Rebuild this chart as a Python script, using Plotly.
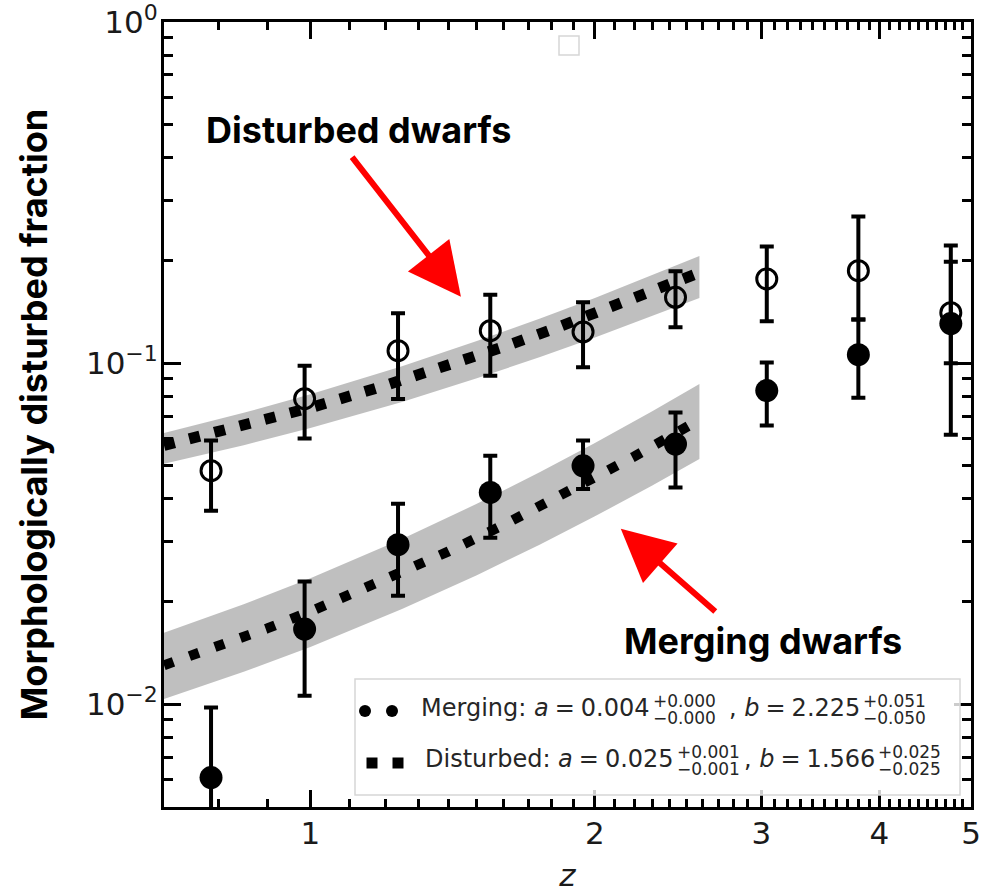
import math
import plotly.graph_objects as go

# ---------------- data ----------------
z_bins = [0.785, 0.986, 1.238, 1.550, 1.943, 2.434, 3.04, 3.80, 4.76]

disturbed_frac = [0.0484, 0.0787, 0.1088, 0.1245, 0.1235, 0.1560, 0.1766, 0.1867, 0.1406]
disturbed_hi   = [0.0593, 0.0983, 0.1400, 0.1588, 0.1508, 0.1858, 0.2196, 0.2689, 0.1984]
disturbed_lo   = [0.0369, 0.0601, 0.0785, 0.0919, 0.0972, 0.1274, 0.1327, 0.1342, 0.1000]

merging_frac = [0.0061, 0.01662, 0.02936, 0.0418, 0.0500, 0.0579, 0.0831, 0.1059, 0.1306]
merging_hi   = [0.00979, 0.0229, 0.0387, 0.0535, 0.0593, 0.0717, 0.1005, 0.1342, 0.2211]
merging_lo   = [0.0049, 0.0106, 0.0208, 0.0308, 0.0428, 0.0432, 0.0656, 0.0792, 0.0617]

fit_z = [0.7, 0.8, 0.9, 1.0, 1.2, 1.4, 1.6, 1.8, 2.0, 2.2, 2.4, 2.58]
disturbed_fit = [0.0574, 0.0628, 0.0683, 0.0740, 0.0860, 0.0985, 0.1116, 0.1254, 0.1397, 0.1545, 0.1699, 0.1842]
merging_fit   = [0.01302, 0.01479, 0.01669, 0.01870, 0.02311, 0.02806, 0.03352, 0.03954, 0.04608, 0.05320, 0.06092, 0.0683]

band_z = [0.7, 0.85, 1.0, 1.25, 1.5, 1.75, 2.0, 2.3, 2.58]
disturbed_band_hi = [0.0624, 0.0715, 0.0810, 0.0979, 0.1161, 0.1352, 0.1553, 0.1809, 0.2060]
disturbed_band_lo = [0.0507, 0.0575, 0.0645, 0.0770, 0.0903, 0.1042, 0.1189, 0.1372, 0.1551]
merging_band_hi = [0.01621, 0.01963, 0.02340, 0.03052, 0.03870, 0.04795, 0.05832, 0.07226, 0.08685]
merging_band_lo = [0.01036, 0.01245, 0.01473, 0.01902, 0.02390, 0.02942, 0.03556, 0.04378, 0.05233]

x_ticks = [1, 2, 3, 4, 5]
x_ticktext = ["1", "2", "3", "4", "5"]
y_ticks = [0.01, 0.1, 1]
y_exponents = ["\u22122", "\u22121", "0"]

EQ = "\u2005=\u2005"
legend_rows = [
    ("Merging: <i>a</i>" + EQ + "0.004", "+0.000", "\u22120.000",
     ", <i>b</i>" + EQ + "2.225", "+0.051", "\u22120.050"),
    ("Disturbed: <i>a</i>" + EQ + "0.025", "+0.001", "\u22120.001",
     ", <i>b</i>" + EQ + "1.566", "+0.025", "\u22120.025"),
]

# ---------------- geometry helpers ----------------
W, H = 981, 893
L, R, T, B = 164, 971, 22, 807
PW, PH = R - L, B - T


def px(xp):
    return (xp - L) / PW


def py(yp):
    return (B - yp) / PH


fig = go.Figure()

GRAY_FILL = "rgba(128,128,128,0.5)"

# uncertainty bands
for lo, hi in [(disturbed_band_lo, disturbed_band_hi), (merging_band_lo, merging_band_hi)]:
    fig.add_trace(go.Scatter(x=band_z, y=lo, mode="lines", line=dict(width=0),
                             showlegend=False, hoverinfo="skip"))
    fig.add_trace(go.Scatter(x=band_z, y=hi, mode="lines", line=dict(width=0),
                             fill="tonexty", fillcolor=GRAY_FILL,
                             showlegend=False, hoverinfo="skip"))

# data points with error bars
fig.add_trace(go.Scatter(
    x=z_bins, y=disturbed_frac, mode="markers", name="Disturbed",
    marker=dict(symbol="circle-open", size=20, color="black", line=dict(width=3, color="black")),
    error_y=dict(type="data", symmetric=False,
                 array=[h - v for h, v in zip(disturbed_hi, disturbed_frac)],
                 arrayminus=[v - l for v, l in zip(disturbed_frac, disturbed_lo)],
                 thickness=4, width=7, color="black"),
    showlegend=False))

fig.add_trace(go.Scatter(
    x=z_bins, y=merging_frac, mode="markers", name="Merging",
    marker=dict(symbol="circle", size=23, color="black"),
    error_y=dict(type="data", symmetric=False,
                 array=[h - v for h, v in zip(merging_hi, merging_frac)],
                 arrayminus=[v - l for v, l in zip(merging_frac, merging_lo)],
                 thickness=4, width=7, color="black"),
    showlegend=False))

# fit lines
fig.add_trace(go.Scatter(x=fit_z, y=disturbed_fit, mode="lines",
                         line=dict(color="black", width=11, dash="11px,15px"),
                         showlegend=False, hoverinfo="skip"))
fig.add_trace(go.Scatter(x=fit_z, y=merging_fit, mode="lines",
                         line=dict(color="black", width=10, dash="10px,17px"),
                         showlegend=False, hoverinfo="skip"))

TICKFONT = dict(family="DejaVu Sans", size=31, color="#1a1a1a")
minor_x = [round(v / 10, 1) for v in range(8, 50) if v % 10 != 0]
minor_y = [m * 10 ** e for e in (-3, -2, -1) for m in range(2, 10) if m * 10 ** e >= 0.0049]
y_ticktext = ['10<sup><span style="font-size:22px">%s</span></sup>' % e for e in y_exponents]

fig.update_xaxes(
    type="log", range=[math.log10(0.7), math.log10(5)], automargin=False,
    tickmode="array", tickvals=x_ticks, ticktext=x_ticktext, ticklabeloverflow="allow",
    ticks="inside", ticklen=17, tickwidth=2.5, tickcolor="black",
    showline=True, linewidth=3, linecolor="black", mirror="ticks",
    showgrid=False, zeroline=False, tickfont=TICKFONT, ticklabelstandoff=-3,
    minor=dict(tickmode="array", tickvals=minor_x, ticks="inside", ticklen=8,
               tickwidth=2.5, tickcolor="black", showgrid=False),
    title=dict(text="<i>z</i>", font=dict(family="DejaVu Sans", size=31, color="#1a1a1a"), standoff=20),
)
fig.update_yaxes(
    type="log", range=[math.log10(0.005), 0], automargin=False,
    tickmode="array", tickvals=y_ticks, ticktext=y_ticktext, ticklabeloverflow="allow",
    ticks="inside", ticklen=17, tickwidth=2.5, tickcolor="black",
    showline=True, linewidth=3, linecolor="black", mirror="ticks",
    showgrid=False, zeroline=False, tickfont=TICKFONT, ticklabelstandoff=-3,
    minor=dict(tickmode="array", tickvals=minor_y, ticks="inside", ticklen=9,
               tickwidth=2.5, tickcolor="black", showgrid=False),
    title=dict(text="Morphologically disturbed fraction",
               font=dict(family="Inter", size=36, weight=700, color="black"), standoff=28),
)

annotations = []
shapes = []

LABELFONT = dict(family="Inter", size=36, weight=700, color="black")
# labels with red arrows
annotations.append(dict(xref="paper", yref="paper", x=px(358.5), y=py(130), text="Disturbed dwarfs",
                        showarrow=False, xanchor="center", yanchor="middle", font=LABELFONT))
annotations.append(dict(xref="paper", yref="paper", x=px(762.5), y=py(641), text="Merging dwarfs",
                        showarrow=False, xanchor="center", yanchor="middle", font=LABELFONT))
annotations.append(dict(xref="x", yref="y", x=math.log10(1.443), y=-0.805, ax=-110, ay=-141,
                        text="", showarrow=True, arrowhead=2, arrowsize=1.75, arrowwidth=6,
                        arrowcolor="#ff0000", standoff=0))
annotations.append(dict(xref="x", yref="y", x=0.3284, y=-1.4853, ax=96, ay=84,
                        text="", showarrow=True, arrowhead=2, arrowsize=1.75, arrowwidth=6,
                        arrowcolor="#ff0000", standoff=0))

# legend box
shapes.append(dict(type="rect", xref="paper", yref="paper", x0=px(355), x1=px(960), y0=py(795), y1=py(679),
                   line=dict(color="#d6d6d6", width=1.5), fillcolor="rgba(255,255,255,0.8)", layer="above"))
# empty legend artifact at top
shapes.append(dict(type="rect", xref="paper", yref="paper", x0=px(559), x1=px(579), y0=py(55), y1=py(36),
                   line=dict(color="#d6d6d6", width=1.5), fillcolor="rgba(255,255,255,0.8)", layer="above"))

# legend symbols
for cx in (365, 392):
    shapes.append(dict(type="circle", xref="paper", yref="paper", x0=px(cx - 6), x1=px(cx + 6),
                       y0=py(717), y1=py(705), fillcolor="black", line=dict(width=0), layer="above"))
for cx in (372, 398):
    shapes.append(dict(type="rect", xref="paper", yref="paper", x0=px(cx - 5.5), x1=px(cx + 5.5),
                       y0=py(768.5), y1=py(757.5), fillcolor="black", line=dict(width=0), layer="above"))

LEGFONT = dict(family="DejaVu Sans", size=24, color="#262626")
SCRFONT = dict(family="DejaVu Sans", size=17, color="#262626")
row_layout = [
    # main y, sup y, sub y, right edge main1, left stack1, right edge main2, left stack2
    (707.5, 700.5, 717.5, 651, 652, 861, 862),
    (758.5, 751.5, 768.5, 675, 676, 876, 877),
]
for (m1, s1a, s1b, m2, s2a, s2b), (ym, ysup, ysub, xm1, xs1, xm2, xs2) in zip(legend_rows, row_layout):
    for text, xx, yy, f, anc in [(m1, xm1, ym, LEGFONT, "right"), (s1a, xs1, ysup, SCRFONT, "left"),
                                 (s1b, xs1, ysub, SCRFONT, "left"), (m2, xm2, ym, LEGFONT, "right"),
                                 (s2a, xs2, ysup, SCRFONT, "left"), (s2b, xs2, ysub, SCRFONT, "left")]:
        annotations.append(dict(xref="paper", yref="paper", x=px(xx), y=py(yy), text=text,
                                showarrow=False, xanchor=anc, yanchor="middle", font=f, borderpad=0))

fig.update_layout(
    width=W, height=H,
    margin=dict(l=L, r=W - R, t=T, b=H - B),
    paper_bgcolor="white", plot_bgcolor="white",
    annotations=annotations, shapes=shapes,
    showlegend=False,
)

fig.write_html("out.html", config={"displayModeBar": False})
